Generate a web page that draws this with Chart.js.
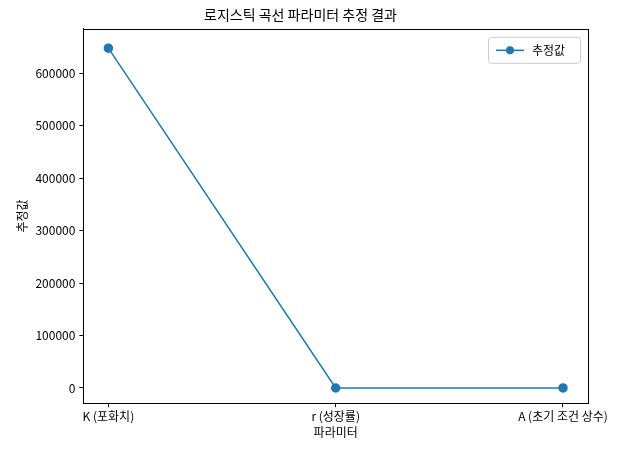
<!DOCTYPE html>
<html>
<head>
<meta charset="utf-8">
<script src="https://cdn.jsdelivr.net/npm/chart.js@4"></script>
<style>
  body { margin: 0; background: #fff; }
  #wrap { width: 627px; height: 454px; }
</style>
</head>
<body>
<div id="wrap"><canvas id="chart"></canvas></div>
<script>
// Dados do gráfico
const categorias = ['K (포화치)', 'r (성장률)', 'A (초기 조건 상수)'];
const valores = [648000, 0.5, 20];
const yTicks = [0, 100000, 200000, 300000, 400000, 500000, 600000];
const serieNome = '추정값';

const FONT = '"Noto Sans CJK KR", "DejaVu Sans", sans-serif';
const COR = '#1f77b4';

// Legenda no estilo matplotlib (canto superior direito da área)
const legendaBox = {
    id: 'legendaBox',
    afterDraw(chart) {
        const { ctx, chartArea } = chart;
        const w = 92, h = 26;
        const x = chartArea.right - w - 8, y = chartArea.top + 8;
        ctx.save();
        ctx.fillStyle = 'rgba(255,255,255,0.8)';
        ctx.strokeStyle = '#cccccc';
        ctx.lineWidth = 1;
        ctx.beginPath();
        ctx.roundRect(x + 0.5, y + 0.5, w, h, 3);
        ctx.fill(); ctx.stroke();
        const cy = y + h / 2 + 0.5;
        ctx.strokeStyle = COR; ctx.lineWidth = 1.5;
        ctx.beginPath(); ctx.moveTo(x + 8, cy); ctx.lineTo(x + 36, cy); ctx.stroke();
        ctx.fillStyle = COR;
        ctx.beginPath(); ctx.arc(x + 22, cy, 4, 0, Math.PI * 2); ctx.fill();
        ctx.fillStyle = '#000';
        ctx.font = '12px ' + FONT;
        ctx.textBaseline = 'middle';
        ctx.fillText(serieNome, x + 44, cy);
        ctx.restore();
    }
};

// Moldura completa da área do gráfico
const moldura = {
    id: 'moldura',
    afterDraw(chart) {
        const { ctx, chartArea: a } = chart;
        ctx.save();
        ctx.strokeStyle = '#000'; ctx.lineWidth = 1;
        ctx.strokeRect(Math.round(a.left) + 0.5, Math.round(a.top) + 0.5,
            Math.round(a.right - a.left), Math.round(a.bottom - a.top));
        ctx.restore();
    }
};

const eixoGrid = { display: true, drawOnChartArea: false, drawTicks: true, tickLength: 4, tickColor: '#000', color: '#000' };

new Chart(document.getElementById('chart'), {
    type: 'line',
    data: {
        datasets: [{
            label: serieNome,
            data: valores.map((v, i) => ({ x: i, y: v })),
            borderColor: COR,
            backgroundColor: COR,
            borderWidth: 1.5,
            pointRadius: 4,
            pointHoverRadius: 4,
            tension: 0
        }]
    },
    options: {
        responsive: true,
        maintainAspectRatio: false,
        animation: false,
        layout: { padding: { left: 13, right: 39, top: 0, bottom: 14 } },
        plugins: {
            legend: { display: false },
            tooltip: { enabled: false },
            title: {
                display: true, text: '로지스틱 곡선 파라미터 추정 결과',
                color: '#000', font: { family: FONT, size: 14, weight: 'normal' },
                padding: { top: 6, bottom: 6 }
            }
        },
        scales: {
            x: {
                type: 'linear', min: -0.11, max: 2.11,
                afterBuildTicks: s => { s.ticks = categorias.map((c, i) => ({ value: i })); },
                ticks: {
                    callback: v => categorias[v] ?? '',
                    color: '#000', font: { family: FONT, size: 12 }, maxRotation: 0, padding: 2
                },
                grid: eixoGrid,
                border: { color: '#000' },
                title: { display: true, text: '파라미터', color: '#000', font: { family: FONT, size: 12 }, padding: 0 }
            },
            y: {
                min: -29000, max: 685000,
                afterBuildTicks: s => { s.ticks = yTicks.map(v => ({ value: v })); },
                ticks: {
                    callback: v => String(v),
                    color: '#000', font: { family: FONT, size: 12 }, padding: 4
                },
                grid: eixoGrid,
                border: { color: '#000' },
                title: { display: true, text: '추정값', color: '#000', font: { family: FONT, size: 12 }, padding: 2 }
            }
        }
    },
    plugins: [legendaBox, moldura]
});
</script>
</body>
</html>
